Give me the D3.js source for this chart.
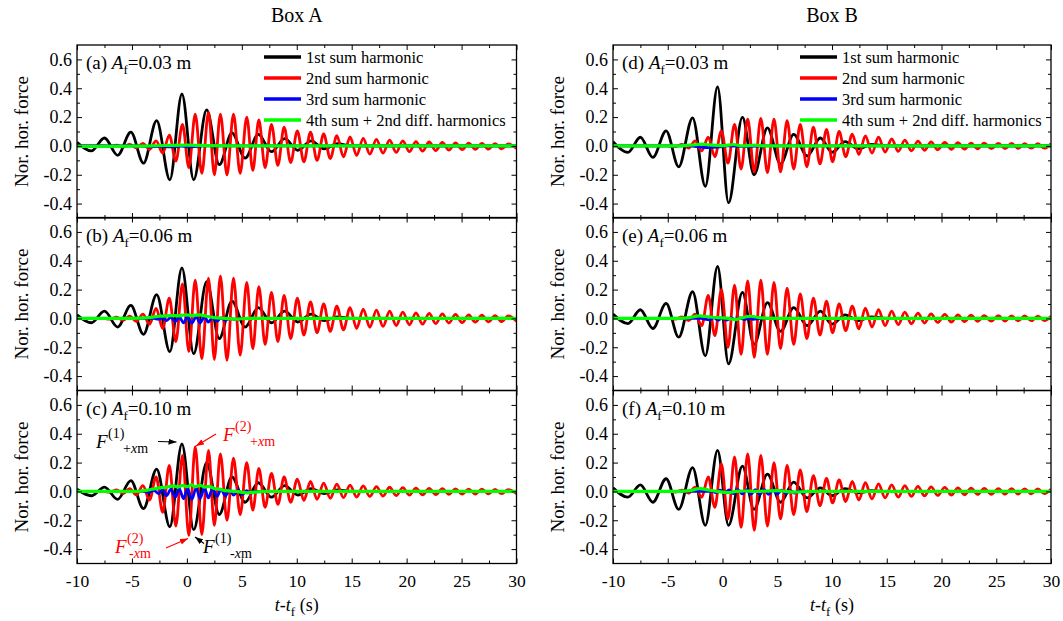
<!DOCTYPE html>
<html>
<head>
<meta charset="utf-8">
<script src="https://cdn.jsdelivr.net/npm/d3@7"></script>
<style>
  body { margin: 0; background: #fff; }
  svg text { font-family: "Liberation Serif", "Times New Roman", serif; }
</style>
</head>
<body>
<div id="chart"></div>
<script>
// ---- data (extrema of each trace, t in s, force normalised) ----
const boxTitles = ['Box A', 'Box B'];
const panelTags = ['(a)', '(b)', '(c)', '(d)', '(e)', '(f)'];
const ampLabels = ['0.03', '0.06', '0.10', '0.03', '0.06', '0.10'];
const seriesNames = ['1st sum harmonic', '2nd sum harmonic', '3rd sum harmonic', '4th sum + 2nd diff. harmonics'];
const yMajor = [-0.4, -0.2, 0, 0.2, 0.4, 0.6];
const yMinor = [-0.3, -0.1, 0.1, 0.3, 0.5];
const xMajor = [-10, -5, 0, 5, 10, 15, 20, 25, 30];
const xMinor = [-7.5, -2.5, 2.5, 7.5, 12.5, 17.5, 22.5, 27.5];

// 1st sum harmonic: times of extrema
const tBlackA = [-10, -8.7, -7.5, -6.3, -5.1, -3.95, -2.75, -1.55, -0.45, 0.62, 1.8, 2.95, 4.1, 5.3, 6.5, 7.7, 8.9, 10.1, 11.3, 12.5, 13.7, 15.0, 30];
const tBlackB = [-10, -8.64, -7.5, -6.36, -5.15, -4.0, -2.73, -1.57, -0.45, 0.55, 1.82, 2.88, 4.1, 5.3, 6.5, 7.73, 8.94, 10.0, 11.2, 12.4, 13.6, 15.0, 30];
const black_a = [0.025, -0.035, 0.055, -0.065, 0.095, -0.12, 0.175, -0.235, 0.36, -0.235, 0.25, -0.13, 0.09, -0.085, 0.08, -0.04, 0.05, -0.03, 0.035, -0.02, 0.015, 0, 0];
const black_b = [0.025, -0.03, 0.05, -0.06, 0.09, -0.11, 0.165, -0.23, 0.35, -0.245, 0.255, -0.14, 0.12, -0.06, 0.075, -0.03, 0.05, -0.025, 0.03, -0.015, 0.01, 0, 0];
const black_c = [0.015, -0.03, 0.03, -0.055, 0.075, -0.12, 0.155, -0.245, 0.33, -0.265, 0.2, -0.16, 0.1, -0.075, 0.06, -0.04, 0.04, -0.025, 0.02, -0.015, 0.01, 0, 0];
const black_d = [0.03, -0.045, 0.06, -0.08, 0.105, -0.145, 0.195, -0.28, 0.41, -0.395, 0.2, -0.2, 0.125, -0.125, 0.08, -0.07, 0.055, -0.045, 0.03, -0.02, 0.01, 0, 0];
const black_e = [0.03, -0.036, 0.06, -0.07, 0.105, -0.13, 0.185, -0.26, 0.36, -0.315, 0.18, -0.18, 0.11, -0.09, 0.075, -0.05, 0.05, -0.04, 0.025, -0.015, 0.01, 0, 0];
const black_f = [0.025, -0.04, 0.045, -0.075, 0.088, -0.125, 0.165, -0.235, 0.285, -0.235, 0.175, -0.125, 0.12, -0.075, 0.065, -0.045, 0.025, -0.03, 0.02, -0.01, 0.005, 0, 0];

// 2nd sum harmonic: times of extrema
const tRedA = [-10, -7.6, -7.0, -6.4, -5.8, -5.2, -4.6, -4.0, -3.4, -2.8,
  -2.2, -1.6, -1.0, -0.4, 0.18, 0.76, 1.36, 1.97, 2.5, 3.05,
  3.65, 4.24, 4.85, 5.45, 6.0, 6.55, 7.12, 7.7, 8.28, 8.85,
  9.45, 10.05, 10.65, 11.25, 11.85, 12.45, 13.05, 13.65, 14.25, 14.85,
  15.45, 16.05, 16.65, 17.25, 17.85, 18.45, 19.05, 19.65, 20.25, 20.85,
  21.45, 22.05, 22.65, 23.25, 23.85, 24.45, 25.05, 25.65, 26.25, 26.85,
  27.45, 28.05, 28.65, 29.25, 30.0];
const tRedB = [-10, -5.0, -4.3, -3.7, -3.1, -2.5, -1.9, -1.3, -0.7, -0.1,
  0.5, 1.1, 1.7, 2.3, 2.9, 3.5, 4.1, 4.7, 5.3, 5.9,
  6.5, 7.1, 7.7, 8.3, 8.9, 9.5, 10.05, 10.65, 11.25, 11.85,
  12.45, 13.05, 13.65, 14.25, 14.85, 15.45, 16.05, 16.65, 17.25, 17.85,
  18.45, 19.05, 19.65, 20.3, 20.9, 21.5, 22.1, 22.7, 23.3, 23.9,
  24.55, 25.2, 25.8, 26.4, 27.0, 27.6, 28.2, 28.8, 29.4, 30.0];
const red_a = [0, 0, -0.004, 0.006, -0.008, 0.01, -0.013, 0.018, -0.025, 0.035,
  -0.05, 0.075, -0.105, 0.15, -0.15, 0.22, -0.19, 0.233, -0.2, 0.22,
  -0.2, 0.22, -0.19, 0.2, -0.17, 0.18, -0.15, 0.15, -0.135, 0.13,
  -0.115, 0.105, -0.11, 0.095, -0.1, 0.083, -0.088, 0.071, -0.076, 0.062,
  -0.066, 0.052, -0.057, 0.045, -0.05, 0.04, -0.045, 0.035, -0.04, 0.03,
  -0.036, 0.027, -0.032, 0.024, -0.029, 0.021, -0.026, 0.019, -0.024, 0.017,
  -0.022, 0.015, -0.02, 0.014, -0.018];
const red_b = [0, 0, -0.005, 0.008, -0.012, 0.015, -0.02, 0.03, -0.04, 0.07,
  -0.07, 0.14, -0.16, 0.24, -0.23, 0.265, -0.28, 0.28, -0.285, 0.295,
  -0.29, 0.28, -0.255, 0.25, -0.21, 0.22, -0.18, 0.18, -0.16, 0.16,
  -0.14, 0.14, -0.115, 0.115, -0.1, 0.1, -0.09, 0.085, -0.08, 0.075,
  -0.07, 0.065, -0.062, 0.057, -0.055, 0.05, -0.049, 0.044, -0.044, 0.039,
  -0.04, 0.035, -0.036, 0.031, -0.032, 0.028, -0.029, 0.025, -0.026, 0.022,
  -0.024, 0.02, -0.022, 0.018, -0.02];
const red_c = [0, 0, -0.005, 0.01, -0.015, 0.02, -0.025, 0.04, -0.06, 0.1,
  -0.145, 0.18, -0.24, 0.25, -0.305, 0.31, -0.3, 0.285, -0.235, 0.26,
  -0.2, 0.23, -0.16, 0.2, -0.13, 0.16, -0.11, 0.125, -0.09, 0.1,
  -0.075, 0.085, -0.063, 0.07, -0.055, 0.058, -0.048, 0.05, -0.043, 0.044,
  -0.039, 0.038, -0.035, 0.033, -0.032, 0.029, -0.029, 0.026, -0.026, 0.023,
  -0.024, 0.021, -0.022, 0.019, -0.02, 0.017, -0.019, 0.016, -0.018, 0.015,
  -0.017, 0.014, -0.016, 0.013, -0.015];
const red_d = [0, 0, -0.005, 0.01, -0.015, 0.035, -0.035, 0.06, -0.075, 0.105,
  -0.12, 0.15, -0.16, 0.185, -0.18, 0.19, -0.185, 0.185, -0.18, 0.175,
  -0.16, 0.15, -0.145, 0.13, -0.125, 0.115, -0.11, 0.1, -0.075, 0.082,
  -0.06, 0.07, -0.05, 0.06, -0.043, 0.048, -0.038, 0.04, -0.034, 0.033,
  -0.03, 0.028, -0.027, 0.025, -0.024, 0.022, -0.022, 0.02, -0.02, 0.019,
  -0.019, 0.018, -0.018, 0.017, -0.017, 0.016, -0.016, 0.016, -0.016, 0.015];
const red_e = [0, 0, -0.005, 0.01, -0.015, 0.03, -0.05, 0.16, -0.12, 0.2,
  -0.2, 0.23, -0.25, 0.26, -0.27, 0.265, -0.25, 0.25, -0.21, 0.21,
  -0.18, 0.17, -0.14, 0.14, -0.115, 0.12, -0.1, 0.1, -0.085, 0.085,
  -0.072, 0.072, -0.06, 0.06, -0.05, 0.05, -0.043, 0.043, -0.037, 0.037,
  -0.032, 0.032, -0.028, 0.028, -0.025, 0.025, -0.022, 0.022, -0.02, 0.02,
  -0.019, 0.019, -0.018, 0.018, -0.017, 0.017, -0.016, 0.016, -0.015, 0.015];
const red_f = [0, 0, -0.004, 0.008, -0.012, 0.03, -0.04, 0.1, -0.11, 0.19,
  -0.19, 0.24, -0.25, 0.26, -0.27, 0.25, -0.24, 0.2, -0.19, 0.18,
  -0.16, 0.15, -0.14, 0.11, -0.1, 0.09, -0.08, 0.08, -0.07, 0.07,
  -0.06, 0.06, -0.052, 0.052, -0.045, 0.045, -0.04, 0.04, -0.035, 0.035,
  -0.031, 0.031, -0.028, 0.028, -0.025, 0.025, -0.023, 0.023, -0.021, 0.021,
  -0.02, 0.02, -0.019, 0.019, -0.018, 0.018, -0.017, 0.017, -0.016, 0.016];

// 3rd sum harmonic: [t, value]
const blue_a = [[-10, 0], [-4.5, 0], [-3.5, -0.006], [-2.5, -0.003], [-1.5, -0.007], [-0.5, -0.002], [0.5, -0.006], [1.5, 0], [30, 0]];
const blue_b = [[-10, 0], [-3, 0], [-2.6, -0.005], [-2.2, 0.005], [-1.85, -0.015], [-1.45, 0.008], [-1.05, -0.022], [-0.7, 0.01], [-0.3, -0.03], [0.05, 0.012], [0.45, -0.032], [0.85, 0.012], [1.2, -0.03], [1.6, 0.01], [1.95, -0.025], [2.35, 0.006], [2.75, -0.018], [3.1, 0.003], [3.5, -0.012], [3.9, 0], [4.3, -0.006], [5, 0], [30, 0]];
const blue_c = [[-10, 0], [-4, 0], [-3.4, -0.005], [-3.0, 0.008], [-2.6, -0.015], [-2.2, 0.012], [-1.85, -0.03], [-1.45, 0.015], [-1.05, -0.04], [-0.7, 0.02], [-0.3, -0.05], [0.05, 0.02], [0.45, -0.055], [0.85, 0.025], [1.2, -0.05], [1.6, 0.025], [1.95, -0.045], [2.35, 0.02], [2.75, -0.035], [3.1, 0.015], [3.5, -0.03], [3.9, 0.01], [4.25, -0.025], [4.65, 0.008], [5.05, -0.02], [5.45, 0.005], [5.8, -0.012], [6.2, 0], [7, 0], [30, 0]];
const blue_d = [[-10, 0], [-3, 0], [-2, -0.008], [-1.2, -0.012], [-0.4, -0.008], [0.5, 0], [2, -0.004], [4, 0], [30, 0]];
const blue_e = [[-10, 0], [-2, 0], [-1.2, -0.01], [-0.8, 0.005], [-0.4, -0.012], [0, 0.005], [0.4, -0.012], [0.8, 0.004], [1.2, -0.01], [1.6, 0.004], [2.0, -0.008], [2.4, 0.003], [2.8, -0.006], [3.5, 0], [30, 0]];
const blue_f = [[-10, 0], [-1, 0], [-0.6, -0.008], [-0.2, 0.008], [0.2, -0.012], [0.6, 0.01], [1.0, -0.015], [1.4, 0.012], [1.8, -0.017], [2.2, 0.012], [2.6, -0.018], [3.0, 0.012], [3.4, -0.02], [3.8, 0.012], [4.2, -0.02], [4.6, 0.01], [5.0, -0.018], [5.4, 0.008], [5.8, -0.015], [6.2, 0.006], [6.6, -0.012], [7.0, 0.004], [7.4, -0.008], [7.8, 0.002], [8.2, -0.004], [9, 0], [30, 0]];

// 4th sum + 2nd difference harmonics: [t, value]
const green_a = [[-10, -0.003], [-5, -0.002], [-2, 0.003], [0, 0.005], [2, 0.002], [5, 0], [30, 0]];
const green_b = [[-10, 0], [-5, 0], [-3.5, 0.005], [-2.5, 0.015], [-1.5, 0.02], [-0.8, 0.018], [-0.2, 0.025], [0.5, 0.02], [1.2, 0.025], [1.8, 0.015], [2.5, 0.005], [3.5, 0], [4.5, -0.005], [5.5, 0], [30, 0]];
const green_c = [[-10, 0], [-4.5, 0], [-3.5, 0.01], [-2.5, 0.025], [-1.8, 0.03], [-1.2, 0.038], [-0.8, 0.03], [-0.4, 0.042], [0, 0.033], [0.4, 0.045], [0.8, 0.033], [1.2, 0.042], [1.6, 0.03], [2.0, 0.035], [2.5, 0.02], [3.0, 0.015], [3.5, 0.005], [4.5, 0], [5.5, -0.01], [6.2, -0.005], [7, 0], [30, 0]];
const green_d = [[-10, 0], [-4, 0], [-2.5, 0.008], [-1.8, 0.012], [-1, 0.005], [0, 0.002], [1, 0.01], [1.8, 0], [3, 0.005], [4, 0], [30, 0]];
const green_e = [[-10, 0], [-4, 0], [-3, 0.005], [-2.1, 0.018], [-1.2, 0.01], [-0.3, 0.005], [0.6, 0], [1.2, -0.008], [1.8, 0.005], [2.6, 0.015], [3.4, 0.005], [5, 0], [30, 0]];
const green_f = [[-10, 0], [-4, 0], [-3, 0.005], [-2.1, 0.02], [-1.3, 0.01], [-0.5, 0], [0.5, -0.008], [1.2, 0], [2, 0.003], [3, 0], [5, 0.005], [6.5, -0.005], [8, 0], [30, 0]];

// ---- layout ----
const width = 1063, height = 621;
const cols = [{ x0: 77, x1: 516.5 }, { x0: 613, x1: 1051 }];
const rowTops = [45, 217.5, 390.5];
const rowH = 173;
const colors = ['#000000', '#ff0000', '#0000ff', '#00ff00'];
const font = '"Liberation Serif", "Times New Roman", serif';

const panels = [
  { col: 0, row: 0, black: d3.zip(tBlackA, black_a), red: d3.zip(tRedA, red_a), blue: blue_a, green: green_a },
  { col: 0, row: 1, black: d3.zip(tBlackA, black_b), red: d3.zip(tRedA, red_b), blue: blue_b, green: green_b },
  { col: 0, row: 2, black: d3.zip(tBlackA, black_c), red: d3.zip(tRedA, red_c), blue: blue_c, green: green_c },
  { col: 1, row: 0, black: d3.zip(tBlackB, black_d), red: d3.zip(tRedB, red_d), blue: blue_d, green: green_d },
  { col: 1, row: 1, black: d3.zip(tBlackB, black_e), red: d3.zip(tRedB, red_e), blue: blue_e, green: green_e },
  { col: 1, row: 2, black: d3.zip(tBlackB, black_f), red: d3.zip(tRedB, red_f), blue: blue_f, green: green_f }
];

const svg = d3.select('#chart').append('svg')
  .attr('width', width)
  .attr('height', height)
  .attr('font-family', font);

const defs = svg.append('defs');
[['arrBlack', '#000'], ['arrRed', '#ff0000']].forEach(([id, c]) => {
  defs.append('marker')
    .attr('id', id)
    .attr('viewBox', '0 0 8 6')
    .attr('refX', 8).attr('refY', 3)
    .attr('markerWidth', 8).attr('markerHeight', 6)
    .attr('markerUnits', 'userSpaceOnUse')
    .attr('orient', 'auto')
    .append('path').attr('d', 'M0,0 L8,3 L0,6 Z').attr('fill', c);
});

function styleAxis(size) {
  return g => {
    g.select('.domain').remove();
    g.attr('font-family', font).attr('font-size', size);
    g.selectAll('line').attr('stroke', '#000').attr('stroke-width', 1);
    g.selectAll('text').attr('fill', '#000');
  };
}

panels.forEach((p, i) => {
  const c = cols[p.col];
  const top = rowTops[p.row];
  const bottom = top + rowH;
  const x = d3.scaleLinear().domain([-10, 30]).range([c.x0, c.x1]);
  const y = d3.scaleLinear().domain([-0.5, 0.7]).range([bottom, top]);

  defs.append('clipPath').attr('id', 'clip' + i)
    .append('rect')
    .attr('x', c.x0).attr('y', top)
    .attr('width', c.x1 - c.x0).attr('height', rowH);

  const line = d3.line()
    .x(d => x(d[0]))
    .y(d => y(d[1]))
    .curve(d3.curveMonotoneX);

  const traces = svg.append('g').attr('clip-path', `url(#clip${i})`);
  [p.black, p.red, p.blue, p.green].forEach((s, k) => {
    traces.append('path')
      .datum(s)
      .attr('d', line)
      .attr('fill', 'none')
      .attr('stroke', colors[k])
      .attr('stroke-width', k === 3 ? 3.2 : 2.8)
      .attr('stroke-linejoin', 'round');
  });

  // ticks on all four sides, pointing inward
  svg.append('g').attr('transform', `translate(${c.x0},0)`)
    .call(d3.axisLeft(y).tickValues(yMajor).tickSizeInner(-5).tickSizeOuter(0).tickPadding(5).tickFormat(d => d.toFixed(1)))
    .call(styleAxis(18));
  svg.append('g').attr('transform', `translate(${c.x0},0)`)
    .call(d3.axisLeft(y).tickValues(yMinor).tickSizeInner(-3).tickSizeOuter(0).tickFormat(''))
    .call(styleAxis(18));
  svg.append('g').attr('transform', `translate(${c.x1},0)`)
    .call(d3.axisRight(y).tickValues(yMajor).tickSizeInner(-5).tickSizeOuter(0).tickFormat(''))
    .call(styleAxis(18));
  svg.append('g').attr('transform', `translate(${c.x1},0)`)
    .call(d3.axisRight(y).tickValues(yMinor).tickSizeInner(-3).tickSizeOuter(0).tickFormat(''))
    .call(styleAxis(18));
  svg.append('g').attr('transform', `translate(0,${top})`)
    .call(d3.axisTop(x).tickValues(xMajor).tickSizeInner(-5).tickSizeOuter(0).tickFormat(''))
    .call(styleAxis(17.5));
  svg.append('g').attr('transform', `translate(0,${top})`)
    .call(d3.axisTop(x).tickValues(xMinor).tickSizeInner(-3).tickSizeOuter(0).tickFormat(''))
    .call(styleAxis(17.5));
  svg.append('g').attr('transform', `translate(0,${bottom})`)
    .call(d3.axisBottom(x).tickValues(xMajor).tickSizeInner(-5).tickSizeOuter(0).tickPadding(11)
      .tickFormat(p.row === 2 ? (d => String(d)) : ''))
    .call(styleAxis(17.5));
  svg.append('g').attr('transform', `translate(0,${bottom})`)
    .call(d3.axisBottom(x).tickValues(xMinor).tickSizeInner(-3).tickSizeOuter(0).tickFormat(''))
    .call(styleAxis(17.5));

  svg.append('rect')
    .attr('x', c.x0).attr('y', top)
    .attr('width', c.x1 - c.x0).attr('height', rowH)
    .attr('fill', 'none')
    .attr('stroke', '#000')
    .attr('stroke-width', 1.3);

  // y title
  svg.append('text')
    .attr('transform', `translate(${c.x0 - 56},${top + rowH / 2}) rotate(-90)`)
    .attr('text-anchor', 'middle')
    .attr('dy', '0.35em')
    .attr('font-size', 19)
    .attr('fill', '#000')
    .text('Nor. hor. force');

  // panel tag
  const tag = svg.append('text')
    .attr('x', c.x0 + 9).attr('y', top + 24)
    .attr('font-size', 19)
    .attr('fill', '#000');
  tag.append('tspan').text(panelTags[i] + ' ');
  tag.append('tspan').attr('font-style', 'italic').text('A');
  tag.append('tspan').attr('font-size', 13).attr('dy', 5).text('f');
  tag.append('tspan').attr('dy', -5).text('=' + ampLabels[i] + ' m');

  // legend in the top panel of each column
  if (p.row === 0) {
    seriesNames.forEach((name, k) => {
      const ly = top + 12 + 21 * k;
      svg.append('line')
        .attr('x1', c.x0 + 187).attr('x2', c.x0 + 224)
        .attr('y1', ly).attr('y2', ly)
        .attr('stroke', colors[k])
        .attr('stroke-width', 3.3);
      svg.append('text')
        .attr('x', c.x0 + 229).attr('y', ly)
        .attr('dy', '0.35em')
        .attr('font-size', 16.5)
        .attr('fill', '#000')
        .text(name);
    });
  }

  // x title under the bottom panel
  if (p.row === 2) {
    const xt = svg.append('text')
      .attr('x', (c.x0 + c.x1) / 2).attr('y', 611)
      .attr('text-anchor', 'middle')
      .attr('font-size', 18)
      .attr('fill', '#000');
    xt.append('tspan').attr('font-style', 'italic').text('t');
    xt.append('tspan').text('-');
    xt.append('tspan').attr('font-style', 'italic').text('t');
    xt.append('tspan').attr('font-size', 13).attr('dy', 5).text('f');
    xt.append('tspan').attr('dy', -5).text(' (s)');
  }
});

// column titles
boxTitles.forEach((t, k) => {
  svg.append('text')
    .attr('x', (cols[k].x0 + cols[k].x1) / 2).attr('y', 22)
    .attr('text-anchor', 'middle')
    .attr('font-size', 20)
    .attr('fill', '#000')
    .text(t);
});

// annotations of panel (c)
function forceLabel(xp, yp, color, sup, sub, stacked) {
  const g = svg.append('g');
  g.append('text').attr('x', xp).attr('y', yp).attr('font-size', 19)
    .attr('font-style', 'italic').attr('fill', color).text('F');
  g.append('text').attr('x', xp + 12).attr('y', yp - 10).attr('font-size', 14)
    .attr('fill', color).text(sup);
  const s = g.append('text')
    .attr('x', stacked ? xp + 14 : xp + 27).attr('y', yp + 5)
    .attr('font-size', 14).attr('fill', color);
  s.append('tspan').text(sub[0]);
  s.append('tspan').attr('font-style', 'italic').text('x');
  s.append('tspan').text('m');
}
forceLabel(96, 448, '#000', '(1)', '+xm', false);
forceLabel(223, 441, '#ff0000', '(2)', '+xm', false);
forceLabel(115, 553, '#ff0000', '(2)', '-xm', true);
forceLabel(203, 553, '#000', '(1)', '-xm', false);

[[158, 441.5, 176.5, 442, '#000', 'arrBlack'],
 [216, 434, 196, 446, '#ff0000', 'arrRed'],
 [166, 548, 188, 538.5, '#ff0000', 'arrRed'],
 [204, 543.5, 195, 537, '#000', 'arrBlack']].forEach(([x1, y1, x2, y2, c, m]) => {
  svg.append('line')
    .attr('x1', x1).attr('y1', y1).attr('x2', x2).attr('y2', y2)
    .attr('stroke', c).attr('stroke-width', 1.2)
    .attr('marker-end', `url(#${m})`);
});
</script>
</body>
</html>
